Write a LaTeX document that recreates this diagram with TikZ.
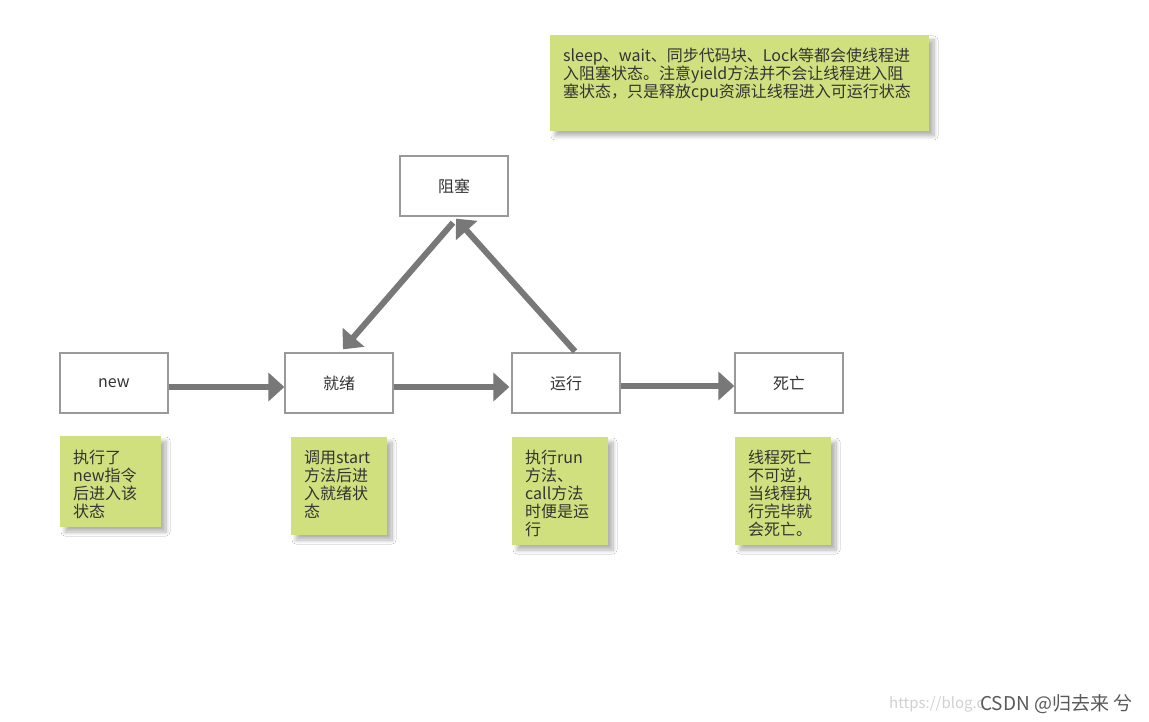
\documentclass[tikz,border=0pt]{standalone}
\usepackage{fontspec}
\setmainfont{Noto Sans CJK SC}
\usetikzlibrary{arrows.meta,shadows.blur}
\definecolor{notegreen}{RGB}{209,224,126}
\definecolor{arrowgray}{RGB}{120,120,120}
\definecolor{boxgray}{RGB}{153,153,153}
\definecolor{txt}{RGB}{51,51,51}
\begin{document}
\begin{tikzpicture}[x=1pt,y=-1pt,
  statebox/.style={draw=boxgray, line width=1.3pt, fill=white, minimum width=108pt, minimum height=60pt, inner sep=0pt, font=\fontsize{16}{18}\selectfont, text=txt},
  notebg/.style={fill=notegreen, blur shadow={shadow xshift=5pt, shadow yshift=-5pt, shadow blur radius=4pt, shadow blur steps=12, shadow opacity=30}},
  notetext/.style={anchor=north west, inner sep=0pt, align=left, font=\fontsize{16}{18}\selectfont, text=txt},
  flow/.style={draw=arrowgray, line width=6pt, -{Triangle[length=16pt,width=28pt]}}
]
\useasboundingbox[fill=white] (0,0) rectangle (1149,722);

% notes backgrounds
\fill[notebg] (550,35) rectangle (929,131);
\fill[notebg] (60,436) rectangle (161,527);
\fill[notebg] (291,437) rectangle (387,535);
\fill[notebg] (512,437) rectangle (608,545);
\fill[notebg] (735,437) rectangle (831,545);

% note texts
\node[notetext] (t0) at (563,48) {sleep、wait、同步代码块、Lock等都会使线程进\\入阻塞状态。注意yield方法并不会让线程进入阻\\塞状态，只是释放cpu资源让线程进入可运行状态};
\node[notetext] (t1) at (73,450) {执行了\\new指令\\后进入该\\状态};
\node[notetext] (t2) at (304,450) {调用start\\方法后进\\入就绪状\\态};
\node[notetext] (t3) at (525,450) {执行run\\方法、\\call方法\\时便是运\\行};
\node[notetext] (t4) at (748,450) {线程死亡\\不可逆，\\当线程执\\行完毕就\\会死亡。};

% state boxes
\node[statebox] (block) at (454,186) {阻塞};
\node[statebox] (new) at (114,383) {new};
\node[statebox] (ready) at (339,383) {就绪};
\node[statebox] (run) at (566,383) {运行};
\node[statebox] (dead) at (789,383) {死亡};

% arrows
\draw[flow] ([yshift=-4pt]new.east) -- ([yshift=-4pt]ready.west);
\draw[flow] ([yshift=-4pt]ready.east) -- ([xshift=-2pt,yshift=-4pt]run.west);
\draw[flow] ([yshift=-3pt]run.east) -- ([yshift=-3pt]dead.west);
\draw[flow] ([xshift=-1pt,yshift=-6pt]block.south) -- ([xshift=4pt,yshift=3pt]ready.north);
\draw[flow] ([xshift=9pt,yshift=1pt]run.north) -- ([xshift=2pt,yshift=-2pt]block.south);

% watermark
\node[anchor=west, inner sep=0pt, text=black!18, font=\fontsize{15}{17}\selectfont] (url) at (889,704) {https://blog.c};
\node[anchor=west, inner sep=0pt, text=black!65, font=\fontsize{19}{21}\selectfont] (wm) at (980,704) {CSDN @归去来 兮};
\end{tikzpicture}
\end{document}
